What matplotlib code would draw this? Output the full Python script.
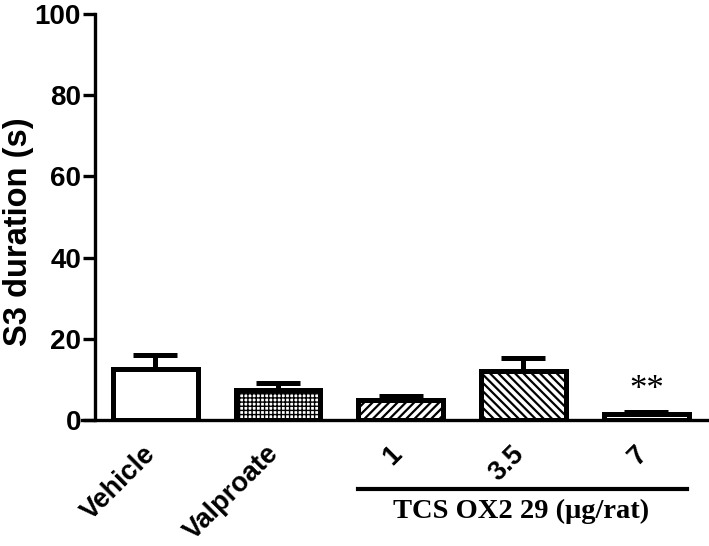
import matplotlib
matplotlib.use("Agg")
import matplotlib.pyplot as plt
from matplotlib import font_manager as fm
import numpy as np

plt.rcParams['hatch.linewidth'] = 1.6

groups = ['Vehicle', 'Valproate', '1', '3.5', '7']
means = [12.6, 7.4, 5.0, 12.1, 1.5]
sems = [3.4, 1.7, 1.0, 3.1, 0.4]
hatches = ['', '++++', '////', '\\\\\\\\', '--']
yticks = [0, 20, 40, 60, 80, 100]
dose_label = 'TCS OX2 29 (\u03bcg/rat)'

# pick the regular-width Liberation Sans Bold file (not the Narrow one)
sans_path = None
for f in fm.findSystemFonts():
    if f.endswith('LiberationSans-Bold.ttf'):
        sans_path = f

def sans(size):
    if sans_path:
        return fm.FontProperties(fname=sans_path, size=size)
    return fm.FontProperties(family='DejaVu Sans', weight='bold', size=size)

fig = plt.figure(figsize=(7.09, 5.46), dpi=100)
ax = fig.add_axes([0.134, 0.231, 0.864, 0.743])

x = np.arange(len(groups))
width = 0.69
lw = 3.6

# error bars (upper only)
ax.errorbar(x, means, yerr=[np.zeros(len(sems)), sems], fmt='none',
            ecolor='black', elinewidth=lw, capsize=16, capthick=lw, zorder=1)
bars = ax.bar(x, means, width, color='white', edgecolor='black',
              linewidth=lw, zorder=2)
for b, h in zip(bars, hatches):
    b.set_hatch(h)
    if h == '++++':
        try:
            b.set_hatch_linewidth(1.0)  # lighter checker look
        except AttributeError:
            pass

ax.set_xlim(-0.49, 4.5)
ax.set_ylim(0, 100)
ax.set_yticks(yticks)
ax.set_yticklabels([str(v) for v in yticks], fontproperties=sans(20))
# labels sit a touch right of the bar centres (ticks are hidden)
ax.set_xticks(x + 0.05)
ax.set_xticklabels(groups, rotation=45, ha='right', fontproperties=sans(19.5))
ax.tick_params(axis='x', length=0, pad=15)
ax.tick_params(axis='y', length=9, width=2.4, pad=1)
ax.set_ylabel('S3 duration (s)', fontproperties=sans(23.5))
ax.yaxis.set_label_coords(-0.1, 0.463)

for s in ['top', 'right']:
    ax.spines[s].set_visible(False)
ax.spines['left'].set_linewidth(2.4)
ax.spines['bottom'].set_linewidth(2.4)
ax.spines['bottom'].set_bounds(-0.6, 4.5)

# significance
ax.text(x[4], means[4] + sems[4] + 1.2, '**', ha='center', va='bottom',
        fontsize=25, family='Liberation Serif')

# dose bracket
ax.plot([1.65, 4.33], [-17, -17], color='black', lw=3, clip_on=False)
ax.text(2.98, -19.5, dose_label, ha='center', va='top', fontsize=20.5,
        fontweight='bold', family='Liberation Serif')

fig.savefig('out.png', dpi=100)
